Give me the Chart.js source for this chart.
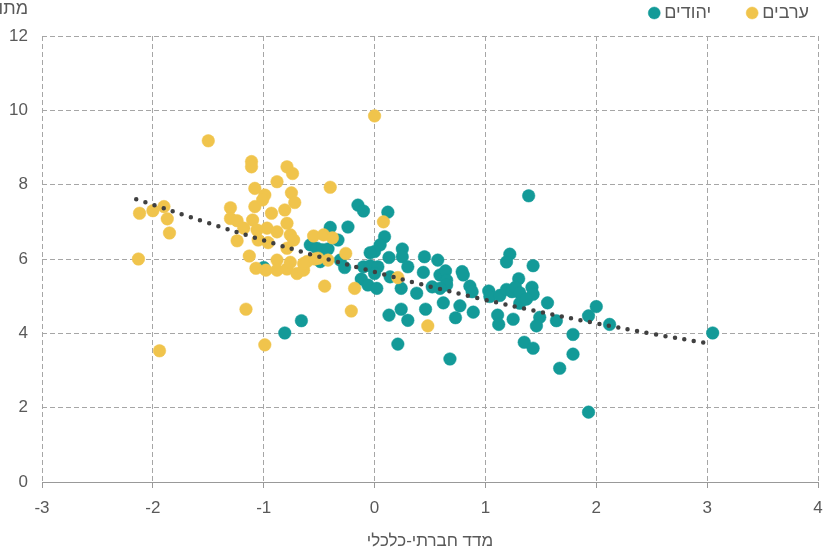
<!DOCTYPE html>
<html lang="he">
<head>
<meta charset="utf-8">
<script src="https://cdn.jsdelivr.net/npm/chart.js@4/dist/chart.umd.min.js"></script>
<style>
  html, body { margin: 0; padding: 0; background: #ffffff; }
  #wrap { width: 828px; height: 552px; }
</style>
</head>
<body>
<div id="wrap"><canvas id="c" width="828" height="552"></canvas></div>
<script>
// ---- Data ----
const seriesNames = ['יהודים', 'ערבים'];
const xAxisTitle = 'מדד חברתי-כלכלי';
const yAxisTitle = 'מתו';
const xTicks = [-3, -2, -1, 0, 1, 2, 3, 4];
const yTicks = [0, 2, 4, 6, 8, 10, 12];

const jewsPoints = [
  [-0.81, 4.01], [-0.66, 4.34], [-1.00, 5.77], [-0.58, 6.38], [-0.52, 6.29], [-0.47, 6.25],
  [-0.42, 6.27], [-0.49, 5.93], [-0.40, 6.85], [-0.24, 6.86], [-0.33, 6.51], [-0.31, 5.97],
  [-0.27, 5.77], [-0.15, 7.45], [-0.10, 7.29], [0.12, 7.26], [0.09, 6.60], [0.05, 6.38],
  [0.00, 6.20], [-0.04, 6.17], [0.25, 6.27], [0.13, 6.04], [0.25, 6.06], [0.45, 6.06],
  [0.57, 5.97], [1.22, 6.13], [1.19, 5.92], [-0.12, 5.46], [-0.06, 5.30], [0.02, 5.21],
  [-0.10, 5.79], [-0.04, 5.82], [0.03, 5.79], [0.00, 5.61], [0.14, 5.52], [0.30, 5.79],
  [0.24, 5.21], [0.38, 5.08], [0.44, 5.64], [0.59, 5.57], [0.64, 5.68], [0.65, 5.43],
  [0.65, 5.30], [0.52, 5.25], [0.59, 5.21], [0.79, 5.66], [0.80, 5.57], [0.62, 4.82],
  [0.77, 4.74], [0.73, 4.42], [0.89, 4.57], [0.46, 4.65], [0.24, 4.65], [0.13, 4.49],
  [0.30, 4.35], [0.21, 3.71], [0.68, 3.31], [0.86, 5.27], [0.88, 5.12], [1.03, 5.14],
  [1.04, 4.99], [1.13, 5.02], [1.19, 5.18], [1.24, 5.12], [1.30, 5.47], [1.27, 5.24],
  [1.31, 5.09], [1.42, 5.24], [1.43, 5.05], [1.31, 4.81], [1.37, 4.92], [1.11, 4.49],
  [1.12, 4.24], [1.25, 4.38], [1.35, 3.76], [1.43, 3.60], [1.39, 7.70], [1.43, 5.82],
  [1.56, 4.82], [1.49, 4.43], [1.46, 4.20], [1.64, 4.34], [1.79, 3.97], [1.79, 3.44],
  [1.67, 3.06], [1.93, 4.47], [2.00, 4.72], [2.12, 4.24], [3.05, 4.01], [1.93, 1.88]
];

const arabsPoints = [
  [-2.13, 6.00], [-2.12, 7.23], [-2.00, 7.30], [-1.90, 7.41], [-1.87, 7.08], [-1.85, 6.70],
  [-1.94, 3.53], [-1.50, 9.18], [-1.30, 7.38], [-1.30, 7.09], [-1.24, 7.03], [-1.24, 6.49],
  [-1.18, 6.83], [-1.16, 4.65], [-1.13, 6.08], [-1.11, 8.62], [-1.11, 8.48], [-1.10, 7.05],
  [-1.08, 7.90], [-1.08, 7.41], [-1.07, 5.75], [-1.06, 6.78], [-1.05, 6.51], [-0.99, 7.72],
  [-1.01, 7.59], [-0.99, 3.69], [-0.98, 5.70], [-0.97, 6.83], [-0.96, 6.44], [-0.93, 7.23],
  [-0.88, 8.08], [-0.88, 6.73], [-0.88, 5.97], [-0.88, 5.70], [-0.81, 7.32], [-0.79, 8.48],
  [-0.79, 6.96], [-0.79, 6.29], [-0.79, 5.73], [-0.76, 6.65], [-0.76, 5.91], [-0.75, 7.78],
  [-0.74, 8.30], [-0.73, 6.51], [-0.72, 7.52], [-0.70, 5.61], [-0.64, 5.70], [-0.64, 5.88],
  [-0.61, 5.93], [-0.55, 6.62], [-0.54, 6.00], [-0.46, 6.65], [-0.45, 5.27], [-0.42, 5.97],
  [-0.40, 7.93], [-0.38, 6.57], [-0.51, 6.02], [-0.26, 6.15], [-0.21, 4.60], [-0.18, 5.21],
  [0.00, 9.85], [0.08, 7.00], [0.21, 5.50], [0.48, 4.20]
];

const trendX = [-2.15, -1.5, -1.0, -0.5, 0.0, 0.5, 1.0, 1.5, 2.0, 2.5, 3.05];
const trendY = [7.61, 6.97, 6.50, 6.06, 5.65, 5.26, 4.90, 4.57, 4.27, 3.99, 3.71];

// ---- Styling ----
const TEAL = '#139a98';
const YELLOW = '#f0c44c';
const TEXT = '#595959';
const GRID = '#a6a6a6';
const FONT = "'Liberation Sans', Arial, sans-serif";

const toXY = arr => arr.map(p => ({ x: p[0], y: p[1] }));

const yTitlePlugin = {
  id: 'yTitle',
  afterDraw(chart) {
    const ctx = chart.ctx;
    ctx.save();
    ctx.font = '18px ' + FONT;
    ctx.fillStyle = TEXT;
    ctx.textAlign = 'right';
    ctx.textBaseline = 'alphabetic';
    ctx.direction = 'rtl';
    ctx.fillText(yAxisTitle, 28, 14);
    ctx.restore();
  }
};

const legendPadPlugin = {
  id: 'legendPad',
  beforeLayout(chart) {
    const lg = chart.legend;
    if (lg && !lg._padPatched) {
      const orig = lg.fit.bind(lg);
      lg.fit = function () { orig(); this.height += 4; };
      lg._padPatched = true;
    }
  }
};

new Chart(document.getElementById('c'), {
  type: 'scatter',
  data: {
    datasets: [
      {
        label: seriesNames[0],
        data: toXY(jewsPoints),
        backgroundColor: TEAL,
        borderColor: TEAL,
        borderWidth: 0.5,
        pointRadius: 6.3,
        order: 2
      },
      {
        label: seriesNames[1],
        data: toXY(arabsPoints),
        backgroundColor: YELLOW,
        borderColor: YELLOW,
        borderWidth: 0.5,
        pointRadius: 6.3,
        order: 1
      },
      {
        label: 'trend',
        type: 'line',
        data: trendX.map((x, i) => ({ x, y: trendY[i] })),
        showLine: true,
        borderColor: '#404040',
        borderWidth: 4.5,
        borderDash: [0, 9.6],
        borderCapStyle: 'round',
        pointRadius: 0,
        fill: false,
        tension: 0.4,
        order: 0
      }
    ]
  },
  options: {
    responsive: false,
    animation: false,
    layout: { padding: { left: 0, right: 6, top: 0, bottom: 0 } },
    plugins: {
      tooltip: { enabled: false },
      legend: {
        position: 'top',
        align: 'end',
        labels: {
          usePointStyle: true,
          pointStyle: 'circle',
          boxWidth: 2,
          boxHeight: 8.5,
          padding: 4,
          color: TEXT,
          font: { family: FONT, size: 18 },
          filter: item => item.datasetIndex !== 2,
          sort: (a, b) => a.datasetIndex - b.datasetIndex,
          generateLabels(chart) {
            const items = Chart.defaults.plugins.legend.labels.generateLabels(chart);
            items.forEach(it => {
              if (it.datasetIndex === 0) it.text = it.text + '\u2002\u2002\u2002\u2002';
              if (it.datasetIndex === 1) it.text = it.text + '\u2002';
            });
            return items;
          }
        }
      }
    },
    scales: {
      x: {
        type: 'linear',
        min: -3,
        max: 4,
        afterBuildTicks: s => { s.ticks = xTicks.map(v => ({ value: v })); },
        afterFit: s => { s.height = 70; s.paddingRight = 10; },
        border: { display: true, color: '#999999', width: 1, dash: [5, 3] },
        grid: { color: GRID, lineWidth: 1, tickLength: 6, tickColor: '#999999', tickBorderDash: [] },
        ticks: { color: TEXT, font: { family: FONT, size: 17 }, padding: 10 },
        title: {
          display: true,
          text: xAxisTitle,
          color: TEXT,
          font: { family: FONT, size: 17 },
          padding: { top: 8, bottom: 0 }
        }
      },
      y: {
        type: 'linear',
        min: 0,
        max: 12,
        afterBuildTicks: s => { s.ticks = yTicks.map(v => ({ value: v })); },
        afterFit: s => { s.width = 42; },
        border: { display: false, dash: [5, 3] },
        grid: { color: GRID, lineWidth: 1, drawTicks: false },
        ticks: { color: TEXT, font: { family: FONT, size: 17 }, padding: 14 }
      }
    }
  },
  plugins: [yTitlePlugin, legendPadPlugin]
});
</script>
</body>
</html>
